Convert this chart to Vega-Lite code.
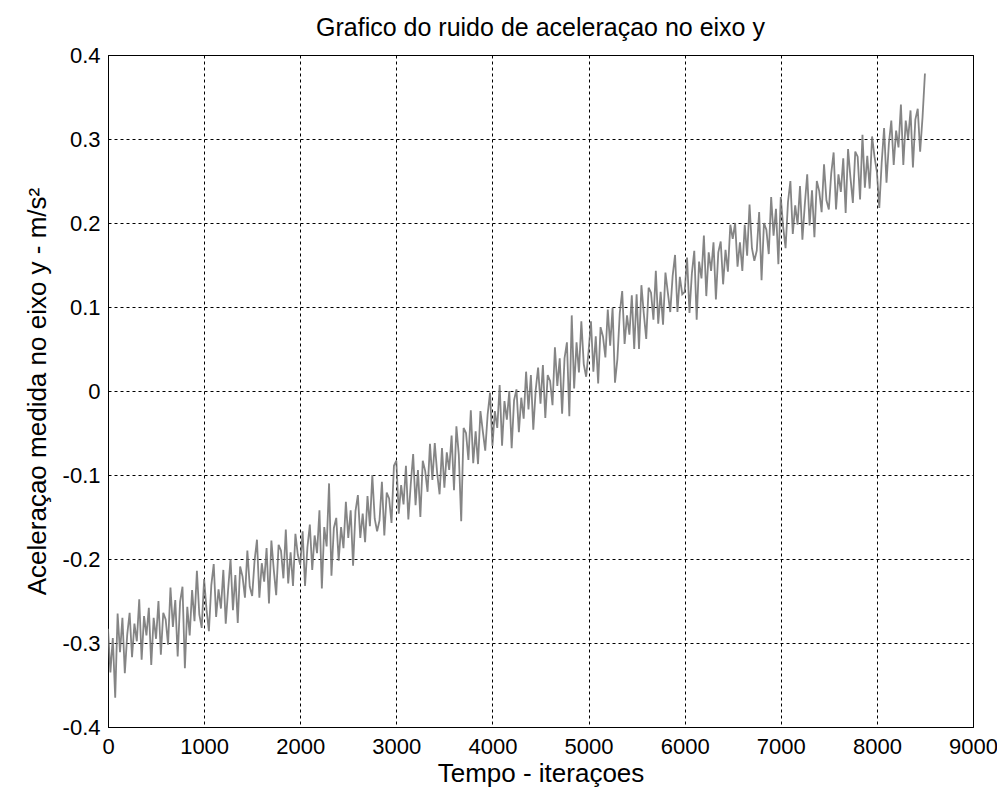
{
  "$schema": "https://vega.github.io/schema/vega-lite/v6.json",
  "autosize": "none",
  "width": 865,
  "height": 672,
  "padding": {"left": 108, "top": 55, "right": 24, "bottom": 72},
  "background": "white",
  "title": {"text": "Grafico do ruido de aceleraçao no eixo y", "font": "Liberation Sans", "fontSize": 25, "fontWeight": "normal", "color": "black", "offset": 3, "anchor": "middle"},
  "config": {
    "view": {"stroke": "black", "strokeWidth": 1},
    "axis": {"labelFont": "Liberation Sans", "labelFontSize": 22, "labelColor": "black", "titleFont": "Liberation Sans", "titleFontSize": 26, "titleFontWeight": "normal", "titleColor": "black", "grid": true, "gridColor": "black", "gridDash": [3, 3], "gridWidth": 1, "gridOpacity": 1, "domainColor": "black", "ticks": false}
  },
  "data": {"values": [
    {"x":0,"y":-0.283},{"x":25,"y":-0.335},{"x":50,"y":-0.294},{"x":75,"y":-0.365},{"x":100,"y":-0.265},{"x":125,"y":-0.311},{"x":150,"y":-0.270},{"x":175,"y":-0.336},{"x":200,"y":-0.290},{"x":225,"y":-0.264},{"x":250,"y":-0.317},{"x":275,"y":-0.277},{"x":300,"y":-0.298},{"x":325,"y":-0.248},{"x":350,"y":-0.320},{"x":375,"y":-0.268},{"x":400,"y":-0.291},{"x":425,"y":-0.258},{"x":450,"y":-0.326},{"x":475,"y":-0.270},
    {"x":500,"y":-0.295},{"x":525,"y":-0.250},{"x":550,"y":-0.314},{"x":575,"y":-0.264},{"x":600,"y":-0.272},{"x":625,"y":-0.302},{"x":650,"y":-0.234},{"x":675,"y":-0.281},{"x":700,"y":-0.249},{"x":725,"y":-0.316},{"x":750,"y":-0.251},{"x":775,"y":-0.233},{"x":800,"y":-0.330},{"x":825,"y":-0.257},{"x":850,"y":-0.291},{"x":875,"y":-0.237},{"x":900,"y":-0.274},{"x":925,"y":-0.214},{"x":950,"y":-0.266},{"x":975,"y":-0.282},
    {"x":1000,"y":-0.224},{"x":1025,"y":-0.260},{"x":1050,"y":-0.286},{"x":1075,"y":-0.231},{"x":1100,"y":-0.206},{"x":1125,"y":-0.269},{"x":1150,"y":-0.236},{"x":1175,"y":-0.259},{"x":1200,"y":-0.213},{"x":1225,"y":-0.277},{"x":1250,"y":-0.236},{"x":1275,"y":-0.200},{"x":1300,"y":-0.261},{"x":1325,"y":-0.219},{"x":1350,"y":-0.276},{"x":1375,"y":-0.209},{"x":1400,"y":-0.221},{"x":1425,"y":-0.246},{"x":1450,"y":-0.190},{"x":1475,"y":-0.233},
    {"x":1500,"y":-0.244},{"x":1525,"y":-0.202},{"x":1550,"y":-0.177},{"x":1575,"y":-0.246},{"x":1600,"y":-0.205},{"x":1625,"y":-0.227},{"x":1650,"y":-0.187},{"x":1675,"y":-0.253},{"x":1700,"y":-0.178},{"x":1725,"y":-0.213},{"x":1750,"y":-0.243},{"x":1775,"y":-0.183},{"x":1800,"y":-0.190},{"x":1825,"y":-0.223},{"x":1850,"y":-0.165},{"x":1875,"y":-0.229},{"x":1900,"y":-0.192},{"x":1925,"y":-0.232},{"x":1950,"y":-0.170},{"x":1975,"y":-0.195},
    {"x":2000,"y":-0.207},{"x":2025,"y":-0.167},{"x":2050,"y":-0.232},{"x":2075,"y":-0.186},{"x":2100,"y":-0.159},{"x":2125,"y":-0.213},{"x":2150,"y":-0.172},{"x":2175,"y":-0.193},{"x":2200,"y":-0.142},{"x":2225,"y":-0.235},{"x":2250,"y":-0.162},{"x":2275,"y":-0.185},{"x":2300,"y":-0.110},{"x":2325,"y":-0.220},{"x":2350,"y":-0.163},{"x":2375,"y":-0.151},{"x":2400,"y":-0.202},{"x":2425,"y":-0.162},{"x":2450,"y":-0.187},{"x":2475,"y":-0.132},
    {"x":2500,"y":-0.175},{"x":2525,"y":-0.142},{"x":2550,"y":-0.208},{"x":2575,"y":-0.143},{"x":2600,"y":-0.124},{"x":2625,"y":-0.175},{"x":2650,"y":-0.146},{"x":2675,"y":-0.180},{"x":2700,"y":-0.125},{"x":2725,"y":-0.161},{"x":2750,"y":-0.100},{"x":2775,"y":-0.152},{"x":2800,"y":-0.167},{"x":2825,"y":-0.154},{"x":2850,"y":-0.108},{"x":2875,"y":-0.172},{"x":2900,"y":-0.121},{"x":2925,"y":-0.128},{"x":2950,"y":-0.157},{"x":2975,"y":-0.089},
    {"x":3000,"y":-0.083},{"x":3025,"y":-0.146},{"x":3050,"y":-0.112},{"x":3075,"y":-0.135},{"x":3100,"y":-0.089},{"x":3125,"y":-0.153},{"x":3150,"y":-0.111},{"x":3175,"y":-0.075},{"x":3200,"y":-0.136},{"x":3225,"y":-0.094},{"x":3250,"y":-0.150},{"x":3275,"y":-0.083},{"x":3300,"y":-0.095},{"x":3325,"y":-0.120},{"x":3350,"y":-0.063},{"x":3375,"y":-0.106},{"x":3400,"y":-0.062},{"x":3425,"y":-0.098},{"x":3450,"y":-0.123},{"x":3475,"y":-0.068},
    {"x":3500,"y":-0.115},{"x":3525,"y":-0.073},{"x":3550,"y":-0.094},{"x":3575,"y":-0.053},{"x":3600,"y":-0.118},{"x":3625,"y":-0.042},{"x":3650,"y":-0.076},{"x":3675,"y":-0.155},{"x":3700,"y":-0.044},{"x":3725,"y":-0.050},{"x":3750,"y":-0.082},{"x":3775,"y":-0.023},{"x":3800,"y":-0.086},{"x":3825,"y":-0.048},{"x":3850,"y":-0.087},{"x":3875,"y":-0.024},{"x":3900,"y":-0.048},{"x":3925,"y":-0.071},{"x":3950,"y":-0.028},{"x":3975,"y":-0.002},
    {"x":4000,"y":-0.065},{"x":4025,"y":-0.024},{"x":4050,"y":-0.044},{"x":4075,"y":0.007},{"x":4100,"y":-0.065},{"x":4125,"y":-0.012},{"x":4150,"y":-0.034},{"x":4175,"y":0.000},{"x":4200,"y":-0.068},{"x":4225,"y":-0.011},{"x":4250,"y":0.002},{"x":4275,"y":-0.049},{"x":4300,"y":-0.008},{"x":4325,"y":-0.033},{"x":4350,"y":0.023},{"x":4375,"y":-0.022},{"x":4400,"y":0.019},{"x":4425,"y":-0.046},{"x":4450,"y":0.001},{"x":4475,"y":0.028},
    {"x":4500,"y":-0.015},{"x":4525,"y":0.031},{"x":4550,"y":-0.032},{"x":4575,"y":0.019},{"x":4600,"y":0.012},{"x":4625,"y":-0.017},{"x":4650,"y":0.052},{"x":4675,"y":0.006},{"x":4700,"y":0.039},{"x":4725,"y":-0.027},{"x":4750,"y":0.039},{"x":4775,"y":0.058},{"x":4800,"y":-0.030},{"x":4825,"y":0.090},{"x":4850,"y":0.003},{"x":4875,"y":0.058},{"x":4900,"y":0.022},{"x":4925,"y":0.083},{"x":4950,"y":0.032},{"x":4975,"y":0.017},
    {"x":5000,"y":0.047},{"x":5025,"y":0.083},{"x":5050,"y":0.023},{"x":5075,"y":0.065},{"x":5100,"y":0.009},{"x":5125,"y":0.076},{"x":5150,"y":0.065},{"x":5175,"y":0.040},{"x":5200,"y":0.097},{"x":5225,"y":0.054},{"x":5250,"y":0.099},{"x":5275,"y":0.010},{"x":5300,"y":0.038},{"x":5325,"y":0.093},{"x":5350,"y":0.119},{"x":5375,"y":0.056},{"x":5400,"y":0.090},{"x":5425,"y":0.067},{"x":5450,"y":0.114},{"x":5475,"y":0.050},
    {"x":5500,"y":0.115},{"x":5525,"y":0.050},{"x":5550,"y":0.126},{"x":5575,"y":0.092},{"x":5600,"y":0.062},{"x":5625,"y":0.123},{"x":5650,"y":0.117},{"x":5675,"y":0.085},{"x":5700,"y":0.143},{"x":5725,"y":0.080},{"x":5750,"y":0.118},{"x":5775,"y":0.079},{"x":5800,"y":0.141},{"x":5825,"y":0.117},{"x":5850,"y":0.094},{"x":5875,"y":0.137},{"x":5900,"y":0.162},{"x":5925,"y":0.094},{"x":5950,"y":0.136},{"x":5975,"y":0.115},
    {"x":6000,"y":0.118},{"x":6025,"y":0.159},{"x":6050,"y":0.093},{"x":6075,"y":0.140},{"x":6100,"y":0.167},{"x":6125,"y":0.085},{"x":6150,"y":0.154},{"x":6175,"y":0.134},{"x":6200,"y":0.185},{"x":6225,"y":0.113},{"x":6250,"y":0.165},{"x":6275,"y":0.143},{"x":6300,"y":0.177},{"x":6325,"y":0.109},{"x":6350,"y":0.165},{"x":6375,"y":0.178},{"x":6400,"y":0.127},{"x":6425,"y":0.168},{"x":6450,"y":0.142},{"x":6475,"y":0.198},
    {"x":6500,"y":0.181},{"x":6525,"y":0.200},{"x":6550,"y":0.148},{"x":6575,"y":0.177},{"x":6600,"y":0.143},{"x":6625,"y":0.198},{"x":6650,"y":0.161},{"x":6675,"y":0.222},{"x":6700,"y":0.170},{"x":6725,"y":0.155},{"x":6750,"y":0.167},{"x":6775,"y":0.213},{"x":6800,"y":0.132},{"x":6825,"y":0.200},{"x":6850,"y":0.192},{"x":6875,"y":0.163},{"x":6900,"y":0.231},{"x":6925,"y":0.185},{"x":6950,"y":0.217},{"x":6975,"y":0.151},
    {"x":7000,"y":0.231},{"x":7025,"y":0.195},{"x":7050,"y":0.170},{"x":7075,"y":0.225},{"x":7100,"y":0.250},{"x":7125,"y":0.187},{"x":7150,"y":0.221},{"x":7175,"y":0.198},{"x":7200,"y":0.244},{"x":7225,"y":0.180},{"x":7250,"y":0.222},{"x":7275,"y":0.258},{"x":7300,"y":0.197},{"x":7325,"y":0.239},{"x":7350,"y":0.183},{"x":7375,"y":0.250},{"x":7400,"y":0.238},{"x":7425,"y":0.213},{"x":7450,"y":0.270},{"x":7475,"y":0.227},
    {"x":7500,"y":0.216},{"x":7525,"y":0.259},{"x":7550,"y":0.284},{"x":7575,"y":0.216},{"x":7600,"y":0.258},{"x":7625,"y":0.237},{"x":7650,"y":0.277},{"x":7675,"y":0.212},{"x":7700,"y":0.288},{"x":7725,"y":0.254},{"x":7750,"y":0.224},{"x":7775,"y":0.285},{"x":7800,"y":0.279},{"x":7825,"y":0.228},{"x":7850,"y":0.305},{"x":7875,"y":0.242},{"x":7900,"y":0.280},{"x":7925,"y":0.241},{"x":7950,"y":0.303},{"x":7975,"y":0.279},
    {"x":8000,"y":0.261},{"x":8025,"y":0.218},{"x":8050,"y":0.272},{"x":8075,"y":0.313},{"x":8100,"y":0.248},{"x":8125,"y":0.295},{"x":8150,"y":0.322},{"x":8175,"y":0.269},{"x":8200,"y":0.310},{"x":8225,"y":0.290},{"x":8250,"y":0.341},{"x":8275,"y":0.269},{"x":8300,"y":0.322},{"x":8325,"y":0.300},{"x":8350,"y":0.334},{"x":8375,"y":0.266},{"x":8400,"y":0.323},{"x":8425,"y":0.336},{"x":8450,"y":0.285},{"x":8475,"y":0.326},{"x":8500,"y":0.378}
  ]},
  "mark": {"type": "line", "color": "#707070", "strokeWidth": 1.8, "opacity": 0.85, "clip": true},
  "encoding": {
    "x": {"field": "x", "type": "quantitative", "scale": {"domain": [0, 9000], "nice": false, "zero": false}, "axis": {"values": [0,1000,2000,3000,4000,5000,6000,7000,8000,9000], "format": "d", "title": "Tempo - iteraçoes", "labelPadding": 9, "titlePadding": 3, "labelFlush": false}},
    "y": {"field": "y", "type": "quantitative", "scale": {"domain": [-0.4, 0.4], "nice": false, "zero": false}, "axis": {"values": [-0.4,-0.3,-0.2,-0.1,0,0.1,0.2,0.3,0.4], "labelExpr": "datum.value < 0 ? '-' + format(-datum.value, '~g') : format(datum.value, '~g')", "title": "Aceleraçao medida no eixo y - m/s²", "labelPadding": 8, "titlePadding": 12, "labelFlush": false}}
  }
}
